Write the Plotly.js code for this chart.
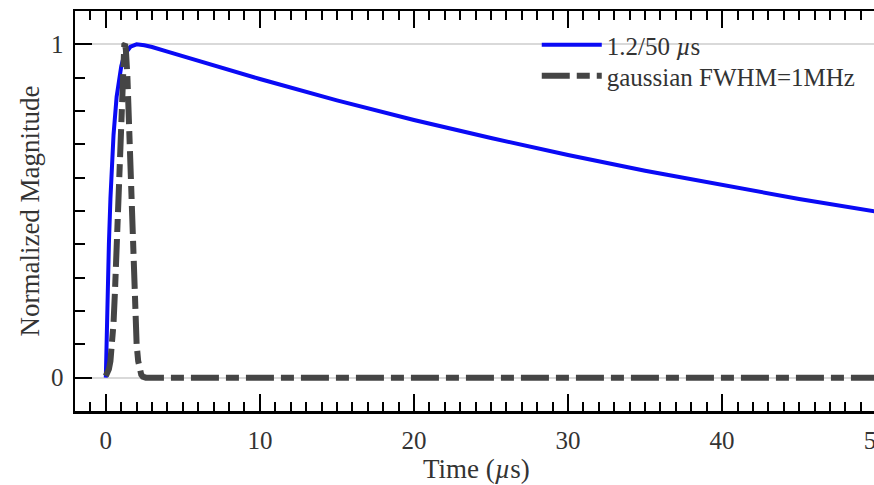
<!DOCTYPE html>
<html>
<head>
<meta charset="utf-8">
<script src="https://cdn.plot.ly/plotly-3.0.1.min.js"></script>
<style>
html,body{margin:0;padding:0;overflow:hidden;width:874px;height:485px;background:#fff;}
#chart{width:912px;height:485px;}
</style>
</head>
<body>
<div id="chart"></div>
<script>
// 1.2/50 us impulse
const impulseTime = [0, 0.05, 0.1, 0.2, 0.3, 0.4, 0.5, 0.7, 0.9, 1.0, 1.1, 1.3, 1.6, 2.0, 2.5, 3, 4, 5, 7, 10, 15, 20, 25, 30, 35, 40, 45, 50, 52];
const impulseMag  = [0, 0.120, 0.226, 0.401, 0.538, 0.645, 0.728, 0.842, 0.911, 0.934, 0.952, 0.975, 0.993, 1.0, 0.997, 0.992, 0.978, 0.964, 0.936, 0.896, 0.832, 0.773, 0.719, 0.668, 0.621, 0.577, 0.536, 0.498, 0.484];
// gaussian pulse FWHM = 1 MHz
const gaussTime = [0, 0.1, 0.2, 0.3, 0.4, 0.5, 0.6, 0.7, 0.8, 0.9, 1.0, 1.1, 1.2, 1.25, 1.3, 1.4, 1.5, 1.6, 1.7, 1.8, 1.9, 2.0, 2.1, 2.2, 2.3, 2.4, 2.6, 52];
const gaussMag  = [0.005, 0.012, 0.026, 0.050, 0.094, 0.163, 0.265, 0.395, 0.550, 0.707, 0.852, 0.950, 0.998, 1.0, 0.985, 0.904, 0.770, 0.607, 0.440, 0.295, 0.180, 0.100, 0.050, 0.022, 0.009, 0.003, 0, 0];
const seriesNames = ['1.2/50 <i>µ</i>s', 'gaussian FWHM=1MHz'];
const xTickVals = [0, 10, 20, 30, 40, 50];
const yTickVals = [0, 1];
const xTitle = 'Time (<i>µ</i>s)';
const yTitle = 'Normalized Magnitude';

const serif = 'Liberation Serif, Times New Roman, serif';

const traces = [
  {x: impulseTime, y: impulseMag, name: seriesNames[0], mode: 'lines', legend: 'legend',
   line: {color: '#0a0af5', width: 4}},
  {x: gaussTime, y: gaussMag, name: seriesNames[1], mode: 'lines', legend: 'legend2',
   line: {color: '#454545', width: 6, dash: '28px,7px,13px,7px'}}
];

const axisCommon = {
  showline: true, linecolor: '#000', linewidth: 2.5, mirror: 'ticks',
  ticks: 'inside', tickcolor: '#000', tickwidth: 2, ticklen: 17,
  zeroline: false,
  tickfont: {family: serif, size: 25, color: '#333'}
};

const legendCommon = {
  xanchor: 'left', yanchor: 'middle', bgcolor: 'rgba(0,0,0,0)',
  font: {family: serif, size: 25, color: '#333'}, itemwidth: 60
};

const layout = {
  width: 912, height: 485,
  margin: {l: 75, r: 5, t: 11, b: 74},
  paper_bgcolor: '#fff', plot_bgcolor: '#fff',
  showlegend: true,
  legend: Object.assign({}, legendCommon, {x: 0.555, y: 0.915}),
  legend2: Object.assign({}, legendCommon, {x: 0.555, y: 0.8375}),
  xaxis: Object.assign({}, axisCommon, {
    range: [-2, 52], tickvals: xTickVals, showgrid: false,
    ticklabelstandoff: 5,
    minor: {dtick: 1, ticks: 'inside', ticklen: 9, tickwidth: 2, tickcolor: '#000', showgrid: false}
  }),
  yaxis: Object.assign({}, axisCommon, {
    range: [-0.1, 1.1], tickvals: yTickVals, showgrid: true, gridcolor: '#d9d9d9', gridwidth: 2,
    ticklabelstandoff: 4,
    minor: {dtick: 0.1, ticks: 'inside', ticklen: 10, tickwidth: 2, tickcolor: '#000', showgrid: false},
    title: {text: yTitle, font: {family: serif, size: 27, color: '#333'}, standoff: 4}
  }),
  annotations: [
    {text: xTitle, xref: 'paper', yref: 'paper', x: 0.482, y: -0.145,
     xanchor: 'center', yanchor: 'middle', showarrow: false,
     font: {family: serif, size: 27, color: '#333'}}
  ]
};

Plotly.newPlot('chart', traces, layout, {displayModeBar: false, staticPlot: true});
</script>
</body>
</html>
